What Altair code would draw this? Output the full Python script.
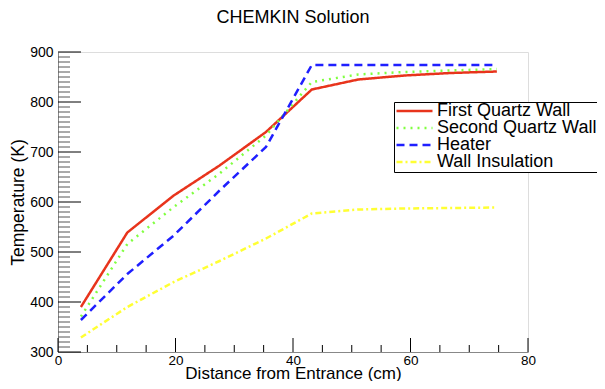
import altair as alt
import pandas as pd

distance = [3.9, 11.8, 19.7, 27.5, 35.4, 43.2, 51.1, 59.0, 66.8, 74.7]
series_names = ["First Quartz Wall", "Second Quartz Wall", "Heater", "Wall Insulation"]
first_quartz = [390, 539, 613, 673, 740, 825, 845, 853, 858, 861]
second_quartz = [371, 516, 590, 657, 733, 840, 855, 860, 863, 866]
heater = [364, 456, 533, 623, 710, 874, 874, 874, 874, 874]
insulation = [329, 390, 440, 482, 527, 577, 585, 587, 588, 589]

x_major = [0, 20, 40, 60, 80]
x_minor = [5, 10, 15, 25, 30, 35, 45, 50, 55, 65, 70, 75]
y_major = [300, 400, 500, 600, 700, 800, 900]
y_minor = [v for v in range(310, 900, 10) if v % 100 != 0]

colors = ["#e8341c", "#80ff40", "#1f1fff", "#ffff33"]
dashes = [[1, 0], [2, 5], [8, 5], [6, 3, 2, 3]]

rows = []
for name, vals in zip(series_names, [first_quartz, second_quartz, heater, insulation]):
    for xv, yv in zip(distance, vals):
        rows.append({"series": name, "x": xv, "T": yv})
df = pd.DataFrame(rows)

FONT = "Liberation Sans"
xs = alt.Scale(domain=[0, 80], nice=False, zero=False)
ys = alt.Scale(domain=[300, 900], nice=False, zero=False)

legend = alt.Legend(
    title=None, orient="none", legendX=336, legendY=50,
    symbolType="M-1,0H3.5", symbolSize=256, symbolStrokeWidth=2.5,
    labelFontSize=18, labelFont=FONT, labelColor="black", labelLimit=0,
    rowPadding=-2, clipHeight=16,
    strokeColor="black", fillColor="white", padding=1, labelOffset=23,
)

lines = alt.Chart(df).mark_line(strokeWidth=2.5, strokeCap="butt").encode(
    x=alt.X("x:Q", scale=xs, axis=alt.Axis(
        values=x_major, title="Distance from Entrance (cm)", ticks=False, tickSize=0,
        grid=False, labelPadding=1, labelFontSize=13.5,
        titleFontSize=17, titleFontWeight="normal", labelFlush=False,
        titleY=26, titleBaseline="alphabetic")),
    y=alt.Y("T:Q", scale=ys, axis=alt.Axis(
        values=y_major, title="Temperature (K)", ticks=False, tickSize=0,
        grid=False, labelPadding=5, labelFontSize=14,
        titleFontSize=17.5, titleFontWeight="normal", labelFlush=False,
        titleX=-35, titleBaseline="alphabetic")),
    color=alt.Color("series:N", scale=alt.Scale(domain=series_names, range=colors), legend=legend),
    strokeDash=alt.StrokeDash("series:N", scale=alt.Scale(domain=series_names, range=dashes), legend=legend),
)

ymaj = alt.Chart(pd.DataFrame({"T": y_major})).mark_rule(color="black", strokeWidth=1).encode(
    y=alt.Y("T:Q", scale=ys), x=alt.value(0), x2=alt.value(23))
ymin = alt.Chart(pd.DataFrame({"T": y_minor})).mark_rule(color="#555555", strokeWidth=1).encode(
    y=alt.Y("T:Q", scale=ys), x=alt.value(0), x2=alt.value(12))
xmaj = alt.Chart(pd.DataFrame({"x": x_major})).mark_rule(color="black", strokeWidth=1).encode(
    x=alt.X("x:Q", scale=xs), y=alt.value(300), y2=alt.value(286))
xmin = alt.Chart(pd.DataFrame({"x": x_minor})).mark_rule(color="black", strokeWidth=1).encode(
    x=alt.X("x:Q", scale=xs), y=alt.value(300), y2=alt.value(293))

chart = alt.layer(lines, ymaj, ymin, xmaj, xmin).properties(
    width=470, height=300,
    title=alt.TitleParams("CHEMKIN Solution", fontSize=18, fontWeight="normal", font=FONT,
                          anchor="middle", offset=18, color="black"),
    autosize=alt.AutoSizeParams(type="none"),
    padding={"left": 50, "top": 44, "right": 69, "bottom": 29},
).configure_view(stroke=None).configure_axis(
    labelFont=FONT, titleFont=FONT, labelColor="black", titleColor="black",
    domainColor="black", domainWidth=1,
).configure(background="white")

chart.save("out.html", embed_options={"renderer": "svg", "actions": False})
